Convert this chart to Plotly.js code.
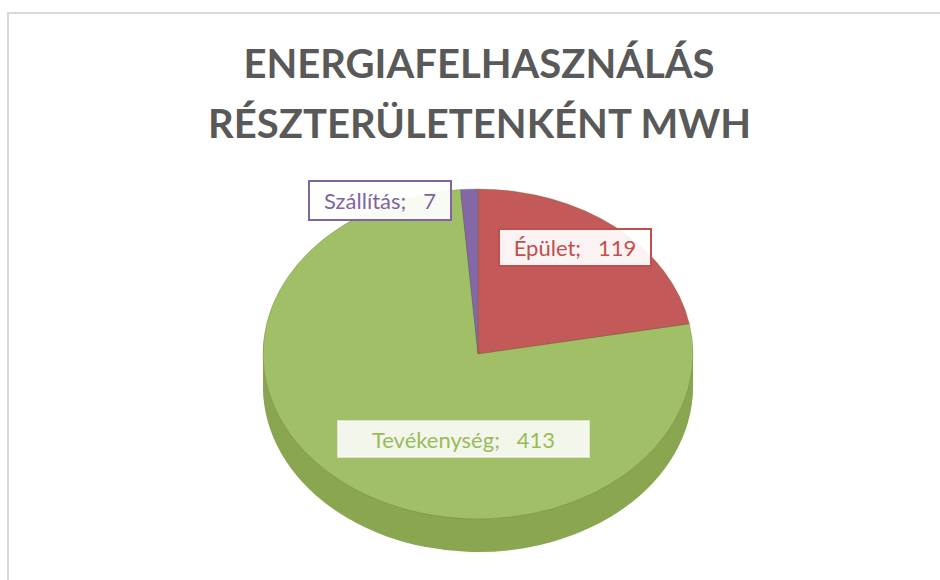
<!DOCTYPE html>
<html>
<head>
<meta charset="utf-8">
<script src="https://cdn.plot.ly/plotly-3.0.1.min.js"></script>
<style>html,body{margin:0;padding:0;background:#fff;}#chart{width:940px;height:580px;}</style>
</head>
<body>
<div id="chart"></div>
<script>
const categories = ['Épület', 'Tevékenység', 'Szállítás'];
const values = [119, 413, 7];
const topColors = ['#C4595A', '#A0BF66', '#8467A6'];
const sideColors = ['#A84543', '#8AA650', '#6C528C'];
const labelColors = ['#C0504D', '#9BBB59', '#8064A2'];
const titleLines = ['ENERGIAFELHASZNÁLÁS', 'RÉSZTERÜLETENKÉNT MWH'];

const W = 940, H = 580;
const cx = 478, rx = 215;          // screen centre x and horizontal radius
const cyScreen = 354, ry = 165;    // screen centre y of the top face, vertical radius
const depth = 33;                  // screen thickness of the pie
const s = ry / rx;
const cyU = 260;                   // unscaled centre y
const depthU = depth / s;
const nLayers = 10;

function pieTrace(offsetU, colors, line) {
  const c = cyU + offsetU;
  return {
    type: 'pie',
    labels: categories,
    values: values,
    sort: false,
    direction: 'clockwise',
    rotation: 0,
    textinfo: 'none',
    hoverinfo: 'label+value',
    showlegend: false,
    marker: {colors: colors, line: line},
    domain: {
      x: [(cx - rx) / W, (cx + rx) / W],
      y: [1 - (c + rx) / H, 1 - (c - rx) / H]
    }
  };
}

const data = [];
for (let i = nLayers; i >= 1; i--) {
  data.push(pieTrace(depthU * i / nLayers, sideColors, {color: sideColors, width: 0}));
}
data.push(pieTrace(0, topColors, {color: 'rgba(90,110,50,0.35)', width: 1}));

const labelFont = 'Lato, "Open Sans", sans-serif';
const labelPos = [[575, 247], [463, 439], [380, 200]];
const labelBox = [[150, 35], [249, 34], [140, 37]];
const annotations = categories.map((c, i) => ({
  text: c + ';\u00A0\u00A0\u00A0' + values[i],
  xref: 'paper', yref: 'paper',
  x: labelPos[i][0] / W, y: 1 - labelPos[i][1] / H,
  xanchor: 'center', yanchor: 'middle',
  showarrow: false,
  width: labelBox[i][0], height: labelBox[i][1],
  font: {family: labelFont, size: 22, color: labelColors[i]},
  bgcolor: i === 1 ? 'rgba(246,248,240,0.96)' : 'rgba(255,255,255,0.93)',
  bordercolor: i === 1 ? 'rgba(255,255,255,0.6)' : labelColors[i],
  borderwidth: 2,
  borderpad: 0
}));

const titleFont = {family: 'Lato, "Open Sans", sans-serif', size: 40, color: '#595959', weight: 'bold'};
annotations.push({
  text: titleLines[1],
  xref: 'paper', yref: 'paper',
  x: 479 / W, y: 1 - 123 / H,
  xanchor: 'center', yanchor: 'middle',
  showarrow: false,
  font: titleFont
});

const layout = {
  width: W, height: H,
  margin: {l: 0, r: 0, t: 0, b: 0},
  paper_bgcolor: '#ffffff',
  title: {
    text: titleLines[0],
    x: 479 / W, xanchor: 'center',
    y: 1 - 64 / H, yanchor: 'middle',
    font: titleFont
  },
  annotations: annotations,
  shapes: [{
    type: 'rect', xref: 'paper', yref: 'paper',
    x0: 8 / W, x1: 1.05, y0: -0.05, y1: 1 - 13 / H,
    line: {color: '#D9D9D9', width: 2}, fillcolor: 'rgba(0,0,0,0)', layer: 'below'
  }]
};

Plotly.newPlot('chart', data, layout, {staticPlot: true}).then(function () {
  const t = cyScreen - s * cyU;
  document.querySelectorAll('.pielayer').forEach(function (g) {
    g.setAttribute('transform', 'matrix(1,0,0,' + s + ',0,' + t + ')');
  });
});
</script>
</body>
</html>
